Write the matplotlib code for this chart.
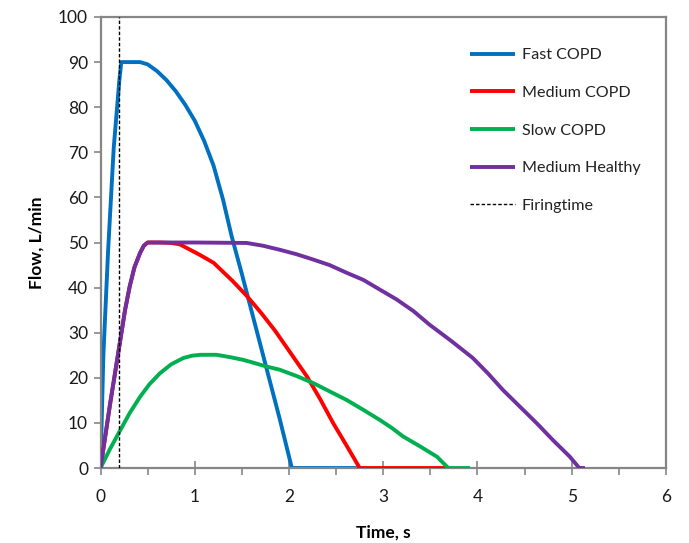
import matplotlib
matplotlib.use("Agg")
import matplotlib.pyplot as plt
from matplotlib.ticker import MultipleLocator

plt.rcParams['font.family'] = ['Lato', 'DejaVu Sans']

# Inspiratory flow profiles (time in s, flow in L/min)
fast_copd_t = [0, 0.03, 0.08, 0.14, 0.20, 0.22, 0.42, 0.50, 0.60, 0.70, 0.80, 0.90,
               1.00, 1.10, 1.20, 1.30, 1.39, 1.50, 1.60, 1.70, 1.80, 1.90, 2.03, 2.75]
fast_copd_f = [0, 25, 48, 71, 86, 90, 90, 89.5, 88, 86, 83.5, 80.5,
               77, 72.5, 67, 59.5, 51.5, 43, 35, 27, 19, 11, 0, 0]

medium_copd_t = [0, 0.10, 0.21, 0.26, 0.31, 0.36, 0.42, 0.46, 0.50, 0.63, 0.75, 0.84,
                 0.95, 1.05, 1.20, 1.40, 1.55, 1.70, 1.85, 2.00, 2.19, 2.33,
                 2.47, 2.61, 2.75, 3.70]
medium_copd_f = [0, 14, 28.4, 35, 40.3, 44.5, 47.7, 49.3, 50, 50, 49.9, 49.6,
                 48.4, 47.3, 45.5, 41.5, 38.2, 34.5, 30.5, 26, 20.3, 15.3,
                 9.9, 5, 0, 0]

slow_copd_t = [0, 0.10, 0.21, 0.31, 0.42, 0.52, 0.63, 0.75, 0.88, 0.97, 1.06, 1.23,
               1.37, 1.51, 1.63, 1.76, 1.90, 2.08, 2.26, 2.43, 2.61, 2.78, 2.96,
               3.09, 3.21, 3.39, 3.57, 3.69, 3.92]
slow_copd_f = [0, 4.2, 8.4, 12.2, 15.8, 18.6, 21, 23, 24.4, 24.9, 25.1, 25.1,
               24.6, 24.0, 23.3, 22.5, 21.8, 20.4, 18.8, 17, 15.1, 13, 10.7,
               8.9, 7, 4.8, 2.5, 0, 0]

medium_healthy_t = [0, 0.10, 0.21, 0.26, 0.31, 0.36, 0.42, 0.46, 0.50, 1.00, 1.55,
                    1.72, 1.90, 2.08, 2.26, 2.43, 2.61, 2.79, 2.96, 3.14, 3.32,
                    3.49, 3.72, 3.95, 4.11, 4.27, 4.45, 4.63, 4.80, 4.98, 5.08, 5.14]
medium_healthy_f = [0, 14, 28.4, 35, 40.3, 44.5, 47.7, 49.3, 50, 50, 49.9,
                    49.3, 48.4, 47.4, 46.2, 45, 43.3, 41.7, 39.6, 37.4, 34.8,
                    31.8, 28.2, 24.4, 21, 17.3, 13.6, 9.9, 6.2, 2.5, 0, 0]

firing_time = 0.2

series = [
    ("Fast COPD", fast_copd_t, fast_copd_f, "#0070C0"),
    ("Medium COPD", medium_copd_t, medium_copd_f, "#FF0000"),
    ("Slow COPD", slow_copd_t, slow_copd_f, "#00B050"),
    ("Medium Healthy", medium_healthy_t, medium_healthy_f, "#7030A0"),
]

fig = plt.figure(figsize=(6.89, 5.43), dpi=100)
ax = fig.add_axes([0.1459, 0.1381, 0.8207, 0.8306])

for i, (name, t, f, c) in enumerate(series):
    ax.plot(t, f, color=c, lw=2.8, label=name, zorder=2 + i,
            solid_joinstyle='round', solid_capstyle='butt')

ax.plot([firing_time, firing_time], [0, 100], color='black', lw=1.0,
        ls=(0, (2.5, 1.5)), label='Firingtime', zorder=10)

ax.set_xlim(0, 6)
ax.set_ylim(0, 100)
ax.xaxis.set_major_locator(MultipleLocator(1))
ax.xaxis.set_minor_locator(MultipleLocator(0.5))
ax.yaxis.set_major_locator(MultipleLocator(10))

spine_col = '#868686'
for s in ax.spines.values():
    s.set_color(spine_col)
    s.set_linewidth(1.6)

ax.tick_params(axis='x', which='major', direction='inout', length=10, width=1.2,
               color=spine_col, labelsize=12.5, pad=10, labelcolor='#1a1a1a')
ax.tick_params(axis='x', which='minor', direction='out', length=5, width=1.2,
               color=spine_col)
ax.tick_params(axis='y', which='major', direction='out', length=5, width=1.2,
               color=spine_col, labelsize=12.5, pad=4, labelcolor='#1a1a1a')

ax.set_xlabel('Time, s', fontsize=12.5, fontweight='bold', labelpad=14)
ax.set_ylabel('Flow, L/min', fontsize=12.5, fontweight='bold', labelpad=10)

leg = ax.legend(loc='upper left', bbox_to_anchor=(0.628, 0.963), frameon=False,
                fontsize=11.6, handlelength=2.8, handletextpad=0.4,
                labelspacing=1.45)
for txt in leg.get_texts():
    txt.set_color('#222222')

fig.savefig('out.png', dpi=100, facecolor='white')
